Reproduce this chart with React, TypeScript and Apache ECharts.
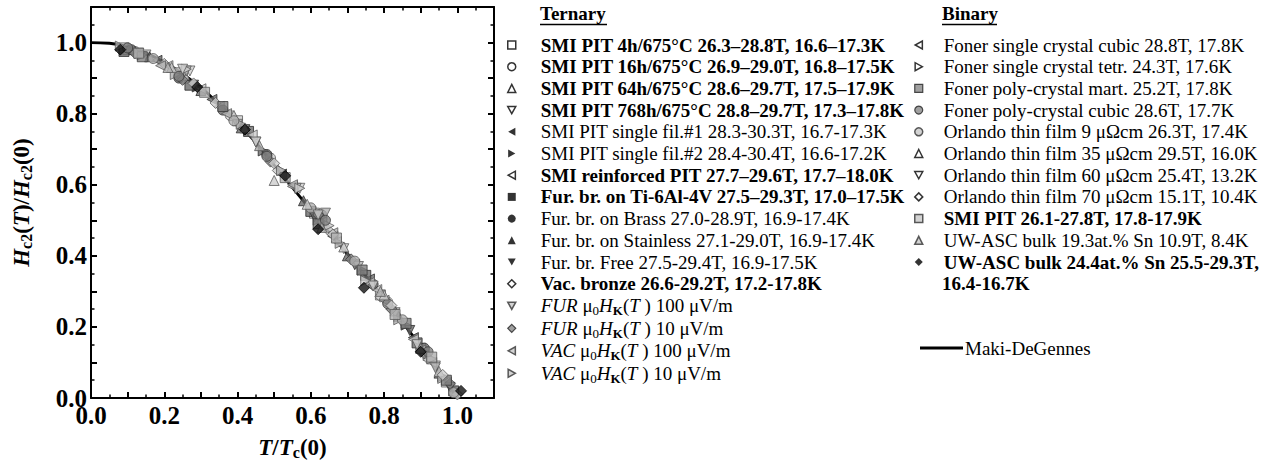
import React, { useEffect, useRef } from "react";
import * as echarts from "echarts";

const FONT = "'Liberation Serif', 'Times New Roman', serif";

// Maki-DeGennes curve (t, h)
const curveT = [0, 0.05, 0.1, 0.15, 0.2, 0.25, 0.3, 0.35, 0.4, 0.45, 0.5, 0.55, 0.6, 0.65, 0.7, 0.75, 0.8, 0.85, 0.9, 0.95, 1.0];
const curveH = [1.0, 0.998, 0.988, 0.97, 0.945, 0.912, 0.873, 0.826, 0.775, 0.718, 0.655, 0.592, 0.528, 0.466, 0.405, 0.343, 0.281, 0.214, 0.145, 0.073, 0.0];

// Ternary series
const smi4h = [[0.09, 0.985], [0.24, 0.915], [0.40, 0.78], [0.61, 0.52], [0.79, 0.29], [0.90, 0.14], [0.97, 0.045]];
const smi16h = [[0.12, 0.975], [0.25, 0.905], [0.38, 0.795], [0.49, 0.675], [0.63, 0.505], [0.81, 0.27], [0.91, 0.13]];
const smi64h = [[0.10, 0.98], [0.26, 0.9], [0.39, 0.795], [0.50, 0.612], [0.64, 0.49], [0.83, 0.245], [0.92, 0.12]];
const smi768h = [[0.15, 0.965], [0.27, 0.92], [0.45, 0.72], [0.57, 0.59], [0.69, 0.42], [0.85, 0.21], [0.94, 0.09]];
const smiFil1 = [[0.18, 0.95], [0.33, 0.84], [0.52, 0.63], [0.66, 0.455], [0.76, 0.335], [0.88, 0.17]];
const smiFil2 = [[0.14, 0.965], [0.29, 0.875], [0.47, 0.695], [0.62, 0.5], [0.74, 0.36], [0.86, 0.205], [0.96, 0.06]];
const smiReinf = [[0.21, 0.935], [0.35, 0.82], [0.55, 0.595], [0.67, 0.44], [0.78, 0.305], [0.93, 0.1]];
const furTi = [[0.09, 0.975], [0.27, 0.88], [0.43, 0.75], [0.60, 0.525], [0.75, 0.345], [0.89, 0.155], [0.99, 0.02]];
const furBrass = [[0.11, 0.98], [0.24, 0.9], [0.36, 0.81], [0.48, 0.685], [0.63, 0.515], [0.77, 0.32], [0.91, 0.14]];
const furStainless = [[0.16, 0.96], [0.30, 0.865], [0.41, 0.76], [0.58, 0.555], [0.70, 0.4], [0.84, 0.23], [0.95, 0.07]];
const furFree = [[0.13, 0.97], [0.28, 0.88], [0.42, 0.755], [0.61, 0.51], [0.72, 0.375], [0.87, 0.19], [0.98, 0.03]];
const vacBronze = [[0.20, 0.94], [0.34, 0.83], [0.51, 0.64], [0.65, 0.47], [0.79, 0.285], [0.92, 0.11], [1.0, 0.01]];
const fur100 = [[0.26, 0.92], [0.40, 0.77], [0.56, 0.59], [0.64, 0.52], [0.73, 0.37], [0.83, 0.24], [0.94, 0.085]];
const fur10 = [[0.12, 0.97], [0.25, 0.895], [0.49, 0.665], [0.62, 0.515], [0.71, 0.39], [0.82, 0.25], [0.91, 0.125], [0.98, 0.04]];
const vac100 = [[0.19, 0.935], [0.37, 0.8], [0.55, 0.6], [0.66, 0.465], [0.80, 0.275], [0.90, 0.135]];
const vac10 = [[0.08, 0.99], [0.23, 0.91], [0.41, 0.77], [0.52, 0.64], [0.68, 0.435], [0.84, 0.22], [0.96, 0.055]];
// Binary series
const fonerCubic = [[0.30, 0.87], [0.44, 0.74], [0.63, 0.495], [0.76, 0.325], [0.88, 0.165]];
const fonerTetr = [[0.26, 0.925], [0.57, 0.59], [0.65, 0.485], [0.75, 0.33], [0.93, 0.11]];
const fonerMart = [[0.14, 0.96], [0.36, 0.82], [0.62, 0.49], [0.74, 0.36], [0.86, 0.21], [0.97, 0.05]];
const fonerPolyCubic = [[0.10, 0.985], [0.24, 0.905], [0.48, 0.68], [0.64, 0.5], [0.81, 0.265], [0.92, 0.13]];
const orlando9 = [[0.17, 0.955], [0.39, 0.78], [0.60, 0.535], [0.72, 0.385], [0.85, 0.22], [0.99, 0.015]];
const orlando35 = [[0.22, 0.93], [0.42, 0.76], [0.59, 0.545], [0.69, 0.425], [0.80, 0.29], [0.95, 0.075]];
const orlando60 = [[0.25, 0.925], [0.45, 0.72], [0.62, 0.515], [0.77, 0.315], [0.89, 0.15]];
const orlando70 = [[0.28, 0.885], [0.50, 0.66], [0.66, 0.46], [0.82, 0.26], [0.96, 0.065]];
const smiPitBin = [[0.13, 0.97], [0.31, 0.86], [0.53, 0.62], [0.67, 0.45], [0.83, 0.235], [0.93, 0.115]];
const uw193 = [[0.21, 0.93], [0.46, 0.71], [0.63, 0.48], [0.79, 0.3], [0.90, 0.14]];
const uw244 = [[0.08, 0.98], [0.29, 0.875], [0.42, 0.755], [0.53, 0.625], [0.62, 0.475], [0.745, 0.31], [0.90, 0.13], [1.01, 0.02]];

const ternaryNames = [
  "SMI PIT 4h/675°C 26.3–28.8T, 16.6–17.3K",
  "SMI PIT 16h/675°C 26.9–29.0T, 16.8–17.5K",
  "SMI PIT 64h/675°C 28.6–29.7T, 17.5–17.9K",
  "SMI PIT 768h/675°C 28.8–29.7T, 17.3–17.8K",
  "SMI PIT single fil.#1 28.3-30.3T, 16.7-17.3K",
  "SMI PIT single fil.#2 28.4-30.4T, 16.6-17.2K",
  "SMI reinforced PIT 27.7–29.6T, 17.7–18.0K",
  "Fur. br. on Ti-6Al-4V 27.5–29.3T, 17.0–17.5K",
  "Fur. br. on Brass 27.0-28.9T, 16.9-17.4K",
  "Fur. br. on Stainless 27.1-29.0T, 16.9-17.4K",
  "Fur. br. Free 27.5-29.4T, 16.9-17.5K",
  "Vac. bronze 26.6-29.2T, 17.2-17.8K",
  "FUR μ0HK(T) 100 μV/m",
  "FUR μ0HK(T) 10 μV/m",
  "VAC μ0HK(T) 100 μV/m",
  "VAC μ0HK(T) 10 μV/m",
];
const binaryNames = [
  "Foner single crystal cubic 28.8T, 17.8K",
  "Foner single crystal tetr. 24.3T, 17.6K",
  "Foner poly-crystal mart. 25.2T, 17.8K",
  "Foner poly-crystal cubic 28.6T, 17.7K",
  "Orlando thin film 9 μΩcm 26.3T, 17.4K",
  "Orlando thin film 35 μΩcm 29.5T, 16.0K",
  "Orlando thin film 60 μΩcm 25.4T, 13.2K",
  "Orlando thin film 70 μΩcm 15.1T, 10.4K",
  "SMI PIT 26.1-27.8T, 17.8-17.9K",
  "UW-ASC bulk 19.3at.% Sn 10.9T, 8.4K",
  "UW-ASC bulk 24.4at.% Sn 25.5-29.3T, 16.4-16.7K",
];
const ternaryData = [smi4h, smi16h, smi64h, smi768h, smiFil1, smiFil2, smiReinf, furTi, furBrass, furStainless, furFree, vacBronze, fur100, fur10, vac100, vac10];
const binaryData = [fonerCubic, fonerTetr, fonerMart, fonerPolyCubic, orlando9, orlando35, orlando60, orlando70, smiPitBin, uw193, uw244];

// symbol, rotation, style-kind
const ternarySym = [["rect", 0, "open"], ["circle", 0, "open"], ["triangle", 0, "open"], ["triangle", 180, "open"], ["triangle", 90, "black"], ["triangle", -90, "black"], ["triangle", 90, "open"], ["rect", 0, "black"], ["circle", 0, "black"], ["triangle", 0, "black"], ["triangle", 180, "black"], ["diamond", 0, "open"], ["triangle", 180, "light"], ["diamond", 0, "gray"], ["triangle", 90, "light"], ["triangle", -90, "light"]];
const binarySym = [["triangle", 90, "open"], ["triangle", -90, "open"], ["rect", 0, "gray"], ["circle", 0, "gray"], ["circle", 0, "light"], ["triangle", 0, "open"], ["triangle", 180, "open"], ["diamond", 0, "open"], ["rect", 0, "light"], ["triangle", 0, "light"], ["diamond", 0, "black"]];
const ternaryBold = [true, true, true, true, false, false, true, true, false, false, false, true, false, false, false, false];
const binaryBold = [false, false, false, false, false, false, false, false, true, false, true];

// legend icon shapes for rotated triangles
const TRI_ICON: Record<string, string> = {
  "180": "path://M0,0L10,0L5,9Z",
  "90": "path://M9,0L9,10L0,5Z",
  "-90": "path://M0,0L0,10L9,5Z",
};

const plotStyle: Record<string, any> = {
  open: { color: "#cdcdcd", borderColor: "#5a5a5a", borderWidth: 1 },
  light: { color: "#b0b0b0", borderColor: "#5a5a5a", borderWidth: 1 },
  gray: { color: "#808080", borderColor: "#3a3a3a", borderWidth: 1 },
  black: { color: "#6a6a6a", borderColor: "#2a2a2a", borderWidth: 1 },
  blackSolid: { color: "#111", borderColor: "#000", borderWidth: 1 },
};
const legendStyle: Record<string, any> = {
  open: { color: "#fff", borderColor: "#000", borderWidth: 1.5 },
  light: { color: "#c8c8c8", borderColor: "#333", borderWidth: 1.5 },
  gray: { color: "#888", borderColor: "#222", borderWidth: 1.2 },
  black: { color: "#000", borderColor: "#000", borderWidth: 0 },
};

const RICH_LABELS: Record<string, string> = {
  "FUR μ0HK(T) 100 μV/m": "{it|FUR} μ{sub|0}{it|H}{subb|K}({it|T} ) 100 μV/m",
  "FUR μ0HK(T) 10 μV/m": "{it|FUR} μ{sub|0}{it|H}{subb|K}({it|T} ) 10 μV/m",
  "VAC μ0HK(T) 100 μV/m": "{it|VAC} μ{sub|0}{it|H}{subb|K}({it|T} ) 100 μV/m",
  "VAC μ0HK(T) 10 μV/m": "{it|VAC} μ{sub|0}{it|H}{subb|K}({it|T} ) 10 μV/m",
  "UW-ASC bulk 24.4at.% Sn 25.5-29.3T, 16.4-16.7K": "UW-ASC bulk 24.4at.% Sn 25.5-29.3T,",
};

const FS = 19;
const LH = 21.7;
const LH_SUB = 22.5;
const ICON = 8;
const TICK_FS = 25;

export default function App() {
  const ref = useRef<HTMLDivElement>(null);
  useEffect(() => {
    const chart = echarts.init(ref.current!, null, { renderer: "svg" });
    const series: any[] = [];
    series.push({
      name: "Maki-DeGennes",
      type: "line",
      data: curveT.map((t, i) => [t, curveH[i]]),
      smooth: true,
      symbol: "none",
      lineStyle: { color: "#000", width: 2.8 },
      itemStyle: { color: "#000" },
      z: 1,
    });
    const addScatter = (names: string[], datas: any[], syms: any[]) => {
      names.forEach((n, i) => {
        const [sym, rot, kind] = syms[i];
        const k = n.startsWith("UW-ASC bulk 24.4") ? "blackSolid" : kind;
        series.push({
          name: n,
          type: "scatter",
          data: datas[i],
          symbol: sym,
          symbolRotate: rot,
          symbolSize: sym === "diamond" ? 11 : 10,
          itemStyle: plotStyle[k],
          z: 3,
        });
      });
    };
    addScatter(ternaryNames, ternaryData, ternarySym);
    addScatter(binaryNames, binaryData, binarySym);

    const rich = {
      it: { fontFamily: FONT, fontSize: FS, fontStyle: "italic", color: "#000", lineHeight: LH_SUB },
      sub: { fontFamily: FONT, fontSize: 13, color: "#000", lineHeight: 10, verticalAlign: "bottom" },
      subb: { fontFamily: FONT, fontSize: 13, fontWeight: "bold", color: "#000", lineHeight: 10, verticalAlign: "bottom" },
    };
    const legendItems = (names: string[], syms: any[], bold: boolean[]) =>
      names.map((n, i) => {
        const [sym, rot, kind] = syms[i];
        const icon = sym === "triangle" && rot !== 0 ? TRI_ICON[String(rot)] : sym;
        return {
          name: n,
          icon,
          itemStyle: legendStyle[kind],
          textStyle: {
            fontWeight: bold[i] ? "bold" : "normal",
            ...(n.includes("μ0HK") ? { lineHeight: LH_SUB } : {}),
          },
        };
      });
    const legendBase = (padLeft: number) => ({
      orient: "vertical",
      selectedMode: false,
      padding: 0,
      itemGap: 0,
      itemWidth: ICON,
      itemHeight: ICON,
      formatter: (name: string) => RICH_LABELS[name] ?? name,
      textStyle: { fontFamily: FONT, fontSize: FS, color: "#000", lineHeight: LH, padding: [0, 0, 0, padLeft], rich },
    });

    const axisCommon = {
      type: "value",
      min: 0,
      max: 1.1,
      interval: 0.1,
      axisLine: { show: true, onZero: false, lineStyle: { color: "#000", width: 2 } },
      axisTick: { show: true, inside: true, length: 6, lineStyle: { color: "#000", width: 2 } },
      minorTick: { show: true, splitNumber: 2, length: 3.5, lineStyle: { color: "#000", width: 1.5 } },
      splitLine: { show: false },
    };
    const labelCommon = {
      fontFamily: FONT,
      fontSize: TICK_FS,
      fontWeight: "bold",
      color: "#000",
      formatter: (v: number) => (Math.round(v * 10) % 2 === 0 ? v.toFixed(1) : ""),
    };
    const nameStyle = {
      fontFamily: FONT,
      fontSize: 23,
      fontWeight: "bold",
      color: "#000",
      lineHeight: 26,
      rich: {
        i: { fontFamily: FONT, fontSize: 23, fontWeight: "bold", fontStyle: "italic", color: "#000", lineHeight: 26 },
        s: { fontFamily: FONT, fontSize: 16, fontWeight: "bold", color: "#000", lineHeight: 12, verticalAlign: "bottom" },
      },
    };

    const lx = 511 - ICON / 2;
    const rx = 918 - ICON / 2;
    chart.setOption({
      animation: false,
      textStyle: { fontFamily: FONT },
      grid: { left: 91, top: 7, right: 777, bottom: 65, containLabel: false, outerBoundsMode: "none" },
      xAxis: [
        {
          ...axisCommon,
          position: "bottom",
          axisLabel: { ...labelCommon, margin: 5 },
          name: "{i|T}/{i|T}{s|c}(0)",
          nameLocation: "middle",
          nameGap: 36,
          nameTextStyle: nameStyle,
        },
        { ...axisCommon, position: "top", axisLabel: { show: false } },
      ],
      yAxis: [
        {
          ...axisCommon,
          position: "left",
          axisLabel: { ...labelCommon, margin: 4 },
          name: "{i|H}{s|c2}({i|T})/{i|H}{s|c2}(0)",
          nameLocation: "middle",
          nameGap: 57,
          nameTextStyle: nameStyle,
        },
        { ...axisCommon, position: "right", axisLabel: { show: false } },
      ],
      legend: [
        { ...legendBase(540 - lx - ICON - 5), left: lx, top: 45 - LH / 2, data: legendItems(ternaryNames, ternarySym, ternaryBold) },
        { ...legendBase(943 - rx - ICON - 5), left: rx, top: 45 - LH / 2, data: legendItems(binaryNames, binarySym, binaryBold) },
        {
          orient: "vertical",
          selectedMode: false,
          padding: 0,
          left: 920,
          top: 348 - LH / 2,
          itemWidth: 43,
          itemHeight: 3,
          data: [{ name: "Maki-DeGennes", icon: "rect", itemStyle: { color: "#000", borderWidth: 0 } }],
          textStyle: { fontFamily: FONT, fontSize: FS, color: "#000", lineHeight: LH, padding: [0, 0, 0, -3] },
        },
      ],
      graphic: [
        { type: "text", left: 540, top: 4, style: { text: "Ternary", font: `bold ${FS}px ${FONT}`, fill: "#000" } },
        { type: "line", shape: { x1: 540, y1: 24.5, x2: 607, y2: 24.5 }, style: { stroke: "#000", lineWidth: 1.5 } },
        { type: "text", left: 942, top: 4, style: { text: "Binary", font: `bold ${FS}px ${FONT}`, fill: "#000" } },
        { type: "line", shape: { x1: 942, y1: 24.5, x2: 997, y2: 24.5 }, style: { stroke: "#000", lineWidth: 1.5 } },
        { type: "text", left: 942, top: 45 + 11 * LH - 10, style: { text: "16.4-16.7K", font: `bold ${FS}px ${FONT}`, fill: "#000" } },
      ],
      series,
    });
    return () => chart.dispose();
  }, []);
  return <div ref={ref} style={{ width: 1271, height: 463, position: "absolute", left: 0, top: 0 }} />;
}
